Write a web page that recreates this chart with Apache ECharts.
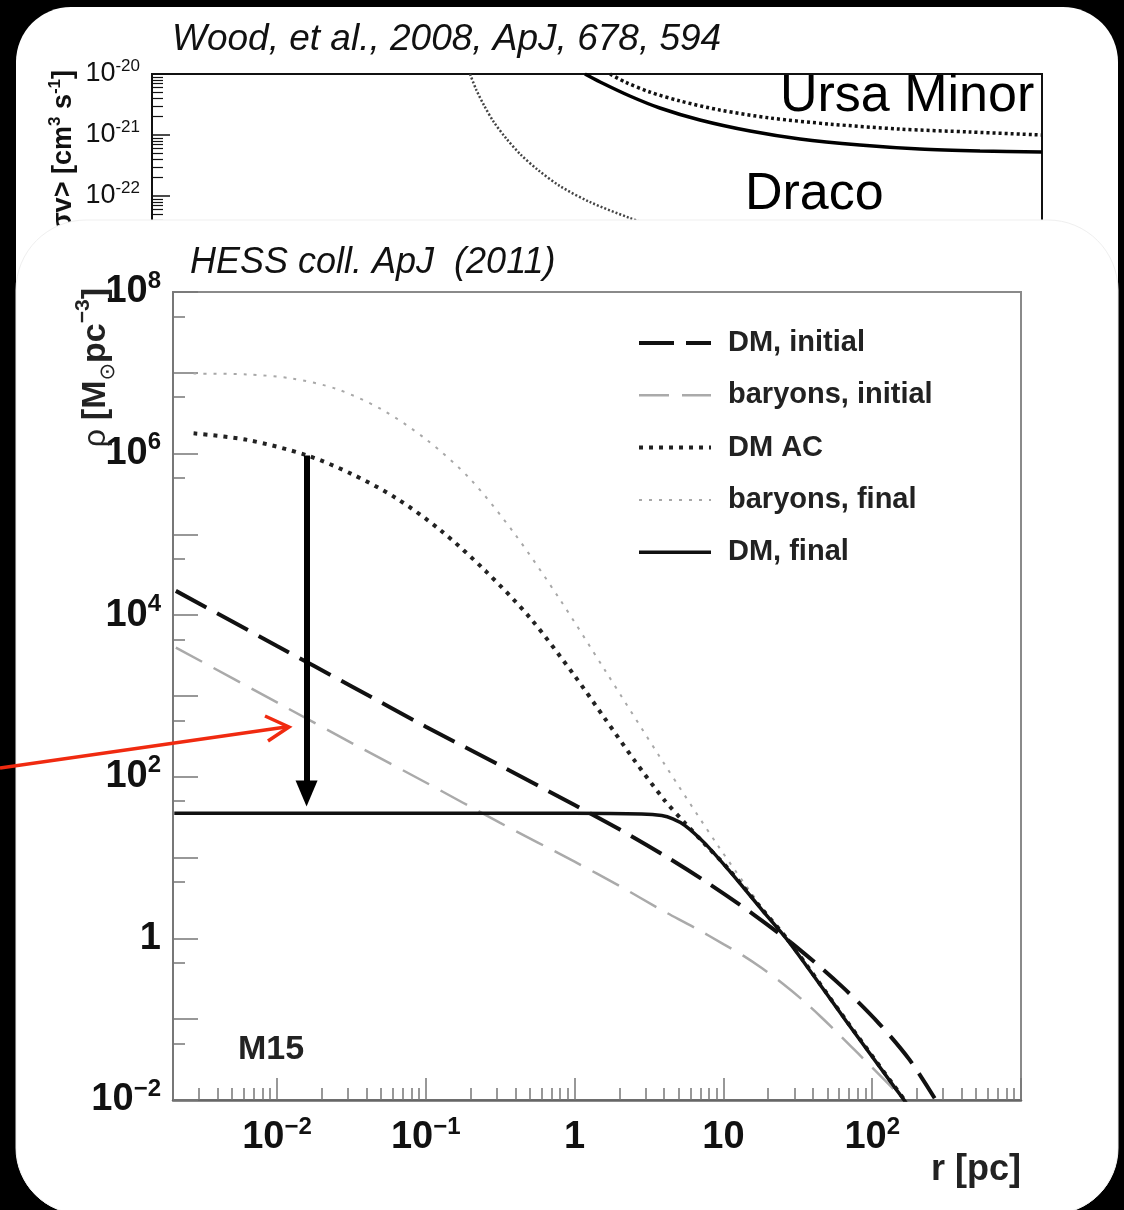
<!DOCTYPE html>
<html><head><meta charset="utf-8">
<script src="https://cdn.jsdelivr.net/npm/echarts@6/dist/echarts.min.js"></script>
<style>html,body{margin:0;padding:0;background:#000;}#c{width:1124px;height:1210px;}</style>
</head><body><div id="c"></div>
<script>
// ================= DATA =================
// Lower panel: HESS coll. ApJ (2011), M15 density profiles, r in pc, rho in Msun/pc^3
const dmInitialR   = [0.00209, 0.01, 0.0316, 0.1, 0.316, 1, 2.0, 3.98, 7.94, 15.8, 31.6, 63.1, 112, 178, 263];
const dmInitialRho = [2.0e4, 4.17e3, 1.32e3, 417, 138, 44.7, 22.4, 10.7, 4.79, 2.0, 0.759, 0.251, 0.0871, 0.0316, 0.0105];

const baryonsInitialR   = [0.00209, 0.01, 0.0316, 0.1, 0.316, 1, 2.0, 3.85, 6.3, 10, 13.5, 18.2, 25.1, 33.9, 45.7, 63.1, 85.1, 115, 158];
const baryonsInitialRho = [3.98e3, 832, 263, 85, 26.9, 8.9, 4.47, 2.24, 1.38, 0.851, 0.617, 0.427, 0.275, 0.174, 0.105, 0.0589, 0.0339, 0.0195, 0.0107];

const dmAcR   = [0.00275, 0.0063, 0.0158, 0.0316, 0.063, 0.126, 0.251, 0.501, 1, 1.585, 2.51, 3.98, 5.5, 7.4, 10.8, 18.2, 27.5, 66, 141, 170];
const dmAcRho = [1.78e6, 1.48e6, 9.55e5, 5.62e5, 2.82e5, 1.12e5, 3.55e4, 9.3e3, 1.78e3, 537, 162, 52.5, 26.9, 15.1, 7.24, 2.29, 0.93, 0.1, 0.0148, 0.0093];

const baryonsFinalR   = [0.00275, 0.0063, 0.0126, 0.0251, 0.0501, 0.1, 0.2, 0.398, 0.794, 1.585, 3.85, 9.33, 18.2, 27.5, 66, 141, 170];
const baryonsFinalRho = [9.77e6, 9.55e6, 8.51e6, 6.31e6, 3.55e6, 1.51e6, 4.79e5, 1e5, 1.58e4, 2.14e3, 162, 13.5, 2.4, 0.93, 0.1, 0.0148, 0.0093];

const dmFinalR   = [0.00204, 0.1, 1, 2.82, 3.85, 4.57, 5.5, 7.48, 10.8, 18.2, 27.5, 66, 141, 170];
const dmFinalRho = [35.5, 35.5, 35.5, 34.7, 33.1, 30.2, 25.1, 15.1, 7.08, 2.24, 0.91, 0.098, 0.0145, 0.0091];

const seriesNames = ['DM, initial', 'baryons, initial', 'DM AC', 'baryons, final', 'DM, final'];

// axis ranges and tick labels (lower panel)
const rRange   = [0.002, 1000];
const rhoRange = [0.01, 1e8];
const rTickLabels   = [0.01, 0.1, 1, 10, 100];
const rhoTickLabels = [0.01, 1, 1e2, 1e4, 1e6, 1e8];

// arrow from DM AC down to DM final (r, rho at start and at head centre)
const arrowR = 0.0158;
const arrowRho = [9.5e5, 62];

// Upper panel: Wood et al. 2008 <sigma v> limits (mass axis not shown)
const massDracoDot = [118, 124, 132, 142, 156, 174, 200, 237, 299, 408, 603];
const sigmaDracoDot = [1.0e-20, 5.47e-21, 2.98e-21, 1.63e-21, 8.9e-22, 4.89e-22, 2.67e-22, 1.46e-22, 7.98e-23, 4.36e-23, 2.21e-23];
const massUmiSolid = [288, 324, 408, 515, 703, 1038, 1528, 2432, 3873, 6180, 10000];
const sigmaUmiSolid = [1.0e-20, 7.4e-21, 4.36e-21, 2.77e-21, 1.76e-21, 1.16e-21, 8.6e-22, 6.86e-22, 5.89e-22, 5.47e-22, 5.26e-22];
const massUmiDot = [350, 393, 476, 603, 820, 1211, 1928, 3319, 5715, 10000];
const sigmaUmiDot = [1e-20, 7.4e-21, 5.07e-21, 3.61e-21, 2.57e-21, 1.9e-21, 1.51e-21, 1.25e-21, 1.12e-21, 1.0e-21];
const massRange = [10, 10000];
const sigmaRange = [1e-23, 1e-20];
const sigmaTickLabels = [1e-20, 1e-21, 1e-22];

// ================= BUILD =================
const L = Math.log10;
const FONT = '"Liberation Sans", Arial, Helvetica, sans-serif';
const pairs = (xs, ys) => xs.map((x, i) => [L(x), L(ys[i])]);

function minorLogTicks(lo, hi, ks) {
  const out = [];
  for (let n = Math.floor(lo) - 1; n <= Math.ceil(hi); n++) {
    ks.forEach(k => { const v = n + L(k); if (v > lo + 1e-6 && v < hi - 1e-6) out.push(v); });
  }
  return out;
}
function decades(lo, hi) { const o = []; for (let n = Math.ceil(lo - 1e-9); n <= Math.floor(hi + 1e-9); n++) o.push(n); return o; }

function powLabel(v, minus) {
  const e = Math.round(v);
  if (e === 0) return '{b|1}';
  if (e === 1) return '{b|10}';
  return '{b|10}{s|' + (e < 0 ? minus + (-e) : e) + '}';
}

const xMin = L(rRange[0]), xMax = L(rRange[1]);
const yMin = L(rhoRange[0]), yMax = L(rhoRange[1]);
const tMin = L(sigmaRange[0]), tMax = L(sigmaRange[1]);

const mainRich = {
  b: { fontFamily: FONT, fontSize: 38, fontWeight: 'bold', color: '#111', lineHeight: 46 },
  s: { fontFamily: FONT, fontSize: 24, fontWeight: 'bold', color: '#111', lineHeight: 24, verticalAlign: 'top' }
};
const topRich = {
  b: { fontFamily: FONT, fontSize: 27, color: '#111', lineHeight: 32 },
  s: { fontFamily: FONT, fontSize: 17, color: '#111', lineHeight: 17, verticalAlign: 'top' }
};
const tickGray = { color: '#777', width: 1.5 };

const chart = echarts.init(document.getElementById('c'), null, { renderer: 'canvas' });

const lineBase = { type: 'line', showSymbol: false, symbol: 'none', smooth: 0.3, clip: true, animation: false, silent: true };

const option = {
  backgroundColor: '#000',
  animation: false,
  grid: [
    { left: 173, top: 292, width: 848, height: 808, show: true, borderColor: '#8a8a8a', borderWidth: 2, backgroundColor: 'transparent', z: 2 },
    { left: 152, top: 74, width: 890, height: 183, show: true, borderColor: '#111', borderWidth: 2, backgroundColor: 'transparent', z: 0 }
  ],
  xAxis: [
    { gridIndex: 0, type: 'value', position: 'bottom', min: xMin, max: xMax, z: 3,
      axisLine: { show: true, onZero: false, lineStyle: { color: '#666', width: 2.5 } },
      axisTick: { show: true, inside: true, length: 22, lineStyle: tickGray, customValues: decades(xMin, xMax) },
      axisLabel: { show: true, margin: 15, customValues: rTickLabels.map(L), formatter: v => powLabel(v, '\u2212'), rich: mainRich },
      splitLine: { show: false } },
    { gridIndex: 0, type: 'value', position: 'bottom', min: xMin, max: xMax, z: 3,
      axisLine: { show: false, onZero: false },
      axisTick: { show: true, inside: true, length: 12, lineStyle: tickGray, customValues: minorLogTicks(xMin, xMax, [2,3,4,5,6,7,8,9]) },
      axisLabel: { show: false }, splitLine: { show: false } },
    { gridIndex: 1, type: 'value', position: 'bottom', min: L(massRange[0]), max: L(massRange[1]), show: false,
      axisLine: { onZero: false }, splitLine: { show: false } }
  ],
  yAxis: [
    { gridIndex: 0, type: 'value', position: 'left', min: yMin, max: yMax, z: 3,
      axisLine: { show: true, onZero: false, lineStyle: { color: '#777', width: 2 } },
      axisTick: { show: true, inside: true, length: 25, lineStyle: tickGray, customValues: decades(yMin, yMax) },
      axisLabel: { show: true, margin: 12, customValues: rhoTickLabels.map(L), formatter: v => powLabel(v, '\u2212'), rich: mainRich },
      splitLine: { show: false } },
    { gridIndex: 0, type: 'value', position: 'left', min: yMin, max: yMax, z: 3,
      axisLine: { show: false, onZero: false },
      axisTick: { show: true, inside: true, length: 12, lineStyle: tickGray, customValues: minorLogTicks(yMin, yMax, [5]) },
      axisLabel: { show: false }, splitLine: { show: false } },
    { gridIndex: 1, type: 'value', position: 'left', min: tMin, max: tMax, z: 0,
      axisLine: { show: true, onZero: false, lineStyle: { color: '#111', width: 2 } },
      axisTick: { show: true, inside: true, length: 18, lineStyle: { color: '#111', width: 1.5 }, customValues: decades(tMin, tMax) },
      axisLabel: { show: true, margin: 12, customValues: sigmaTickLabels.map(L), formatter: v => powLabel(v, '-'), rich: topRich },
      splitLine: { show: false } },
    { gridIndex: 1, type: 'value', position: 'left', min: tMin, max: tMax, z: 0,
      axisLine: { show: false, onZero: false },
      axisTick: { show: true, inside: true, length: 11, lineStyle: { color: '#111', width: 1.2 }, customValues: minorLogTicks(tMin, tMax, [2,3,4,5,6,7,8,9]) },
      axisLabel: { show: false }, splitLine: { show: false } }
  ],
  legend: {
    show: true, orient: 'vertical', left: 632, top: 323, itemWidth: 72, itemHeight: 30, itemGap: 22.3, z: 6,
    selectedMode: false,
    itemStyle: { opacity: 0 },
    lineStyle: { width: 'inherit' },
    textStyle: { fontFamily: FONT, fontSize: 29, fontWeight: 'bold', color: '#222', lineHeight: 30, padding: [0, 0, 0, 12] },
    data: seriesNames
  },
  series: [
    Object.assign({}, lineBase, { name: seriesNames[1], xAxisIndex: 0, yAxisIndex: 0, z: 4, data: pairs(baryonsInitialR, baryonsInitialRho),
      itemStyle: { color: '#aaaaaa' }, lineStyle: { color: '#aaaaaa', width: 2.5, type: [30, 13] } }),
    Object.assign({}, lineBase, { name: seriesNames[3], xAxisIndex: 0, yAxisIndex: 0, z: 4, data: pairs(baryonsFinalR, baryonsFinalRho),
      itemStyle: { color: '#a8a8a8' }, lineStyle: { color: '#a8a8a8', width: 2, type: [3, 7] } }),
    Object.assign({}, lineBase, { name: seriesNames[0], xAxisIndex: 0, yAxisIndex: 0, z: 4, data: pairs(dmInitialR, dmInitialRho),
      itemStyle: { color: '#111' }, lineStyle: { color: '#111', width: 4, type: [35, 12] } }),
    Object.assign({}, lineBase, { name: seriesNames[2], xAxisIndex: 0, yAxisIndex: 0, z: 4, data: pairs(dmAcR, dmAcRho),
      itemStyle: { color: '#222' }, lineStyle: { color: '#222', width: 4, type: [4, 6] } }),
    Object.assign({}, lineBase, { name: seriesNames[4], xAxisIndex: 0, yAxisIndex: 0, z: 4, data: pairs(dmFinalR, dmFinalRho),
      itemStyle: { color: '#111' }, lineStyle: { color: '#111', width: 3.5, type: 'solid' },
      markLine: { silent: true, animation: false, symbol: ['none', 'triangle'], symbolSize: [22, 26], label: { show: false },
        lineStyle: { color: '#000', width: 6, type: 'solid' }, emphasis: { disabled: true },
        data: [[{ coord: [L(arrowR), L(arrowRho[0])] }, { coord: [L(arrowR), L(arrowRho[1])] }]] } }),
    // upper panel
    Object.assign({}, lineBase, { name: 'draco-dotted', xAxisIndex: 2, yAxisIndex: 2, z: 0.5, data: pairs(massDracoDot, sigmaDracoDot),
      lineStyle: { color: '#444', width: 2.5, type: [2, 2] } }),
    Object.assign({}, lineBase, { name: 'umi-solid', xAxisIndex: 2, yAxisIndex: 2, z: 0.5, data: pairs(massUmiSolid, sigmaUmiSolid),
      lineStyle: { color: '#000', width: 3.5, type: 'solid' } }),
    Object.assign({}, lineBase, { name: 'umi-dotted', xAxisIndex: 2, yAxisIndex: 2, z: 0.5, data: pairs(massUmiDot, sigmaUmiDot),
      lineStyle: { color: '#111', width: 3.5, type: [3, 3] } })
  ],
  graphic: [{
    elements: [
      // outer white card
      { type: 'rect', z: -1, silent: true, shape: { x: 16, y: 7, width: 1102, height: 1207, r: [55, 55, 66, 66] }, style: { fill: '#fff' } },
      // upper panel texts
      { type: 'text', z: 0.6, silent: true, x: 172, y: 40, style: { text: 'Wood, et al., 2008, ApJ, 678, 594', font: 'italic 37px ' + FONT, fill: '#111', verticalAlign: 'middle' } },
      { type: 'text', z: 0.6, silent: true, x: 780, y: 97, style: { text: 'Ursa Minor', font: '52px ' + FONT, fill: '#000', verticalAlign: 'middle' } },
      { type: 'text', z: 0.6, silent: true, x: 745, y: 195, style: { text: 'Draco', font: '52px ' + FONT, fill: '#000', verticalAlign: 'middle' } },
      { type: 'text', z: 0.6, silent: true, x: 64, y: 70, rotation: Math.PI / 2,
        style: { text: '{b|<\u03c3v> [cm}{s|3}{b| s}{s|-1}{b|]}', align: 'right', verticalAlign: 'middle',
          rich: { b: { fontFamily: FONT, fontSize: 27, fontWeight: 'bold', fill: '#111', lineHeight: 34 },
                  s: { fontFamily: FONT, fontSize: 17, fontWeight: 'bold', fill: '#111', lineHeight: 17, verticalAlign: 'top' } } } },
      // lower panel card (covers the rest of the upper panel)
      { type: 'rect', z: 1, silent: true, shape: { x: 16, y: 220, width: 1102, height: 994, r: [70, 70, 66, 66] }, style: { fill: '#fff', stroke: '#efefef', lineWidth: 1 } },
      // lower panel texts
      { type: 'text', z: 6, silent: true, x: 190, y: 263, style: { text: 'HESS coll. ApJ  (2011)', font: 'italic 36px ' + FONT, fill: '#111', verticalAlign: 'middle' } },
      { type: 'text', z: 6, silent: true, x: 238, y: 1050, style: { text: 'M15', font: 'bold 34px ' + FONT, fill: '#222', verticalAlign: 'middle' } },
      { type: 'text', z: 6, silent: true, x: 1021, y: 1170, style: { text: 'r [pc]', font: 'bold 36px ' + FONT, fill: '#222', align: 'right', verticalAlign: 'middle' } },
      { type: 'text', z: 6, silent: true, x: 96, y: 288, rotation: Math.PI / 2,
        style: { text: '{r|\u03c1 }{b|[M}{d|\u2299}{b|pc}{s|\u22123}{b|]}', align: 'right', verticalAlign: 'middle',
          rich: { r: { fontFamily: FONT, fontSize: 32, fill: '#222', lineHeight: 46, verticalAlign: 'middle' },
                  b: { fontFamily: FONT, fontSize: 34, fontWeight: 'bold', fill: '#222', lineHeight: 46 },
                  d: { fontFamily: '"DejaVu Sans", ' + FONT, fontSize: 21, fill: '#222', lineHeight: 22, verticalAlign: 'bottom' },
                  s: { fontFamily: FONT, fontSize: 21, fontWeight: 'bold', fill: '#222', lineHeight: 21, verticalAlign: 'top' } } } },
      // red pointer arrow (annotation coming from outside the card)
      { type: 'line', z: 7, silent: true, shape: { x1: 0, y1: 768, x2: 286, y2: 727 }, style: { stroke: '#f02a10', lineWidth: 3.5 } },
      { type: 'polyline', z: 7, silent: true, shape: { points: [[265, 716], [289, 727], [268, 741]] }, style: { stroke: '#f02a10', lineWidth: 3.5, fill: null, lineJoin: 'miter' } }
    ]
  }]
};
chart.setOption(option);
</script>
</body></html>
